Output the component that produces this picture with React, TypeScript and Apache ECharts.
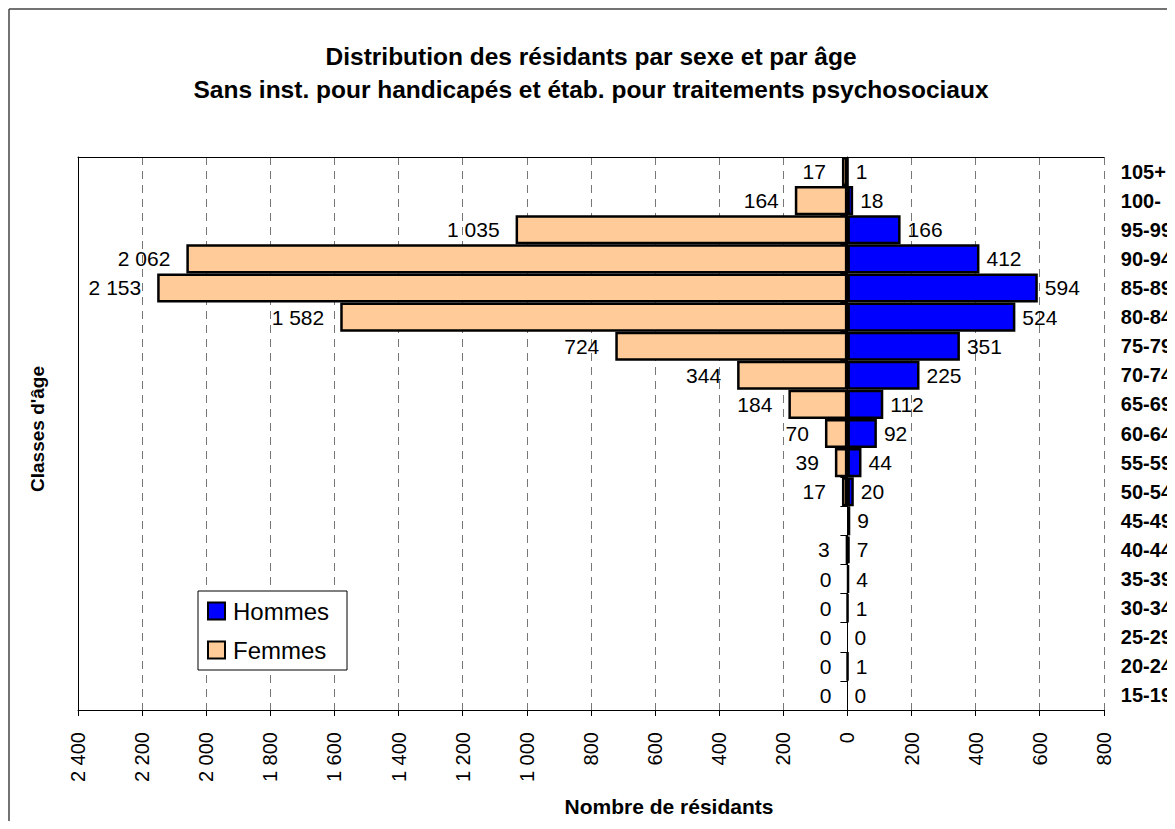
import React, { useEffect, useRef } from "react";
import * as echarts from "echarts";

const ageGroups = ["15-19", "20-24", "25-29", "30-34", "35-39", "40-44", "45-49", "50-54", "55-59", "60-64", "65-69", "70-74", "75-79", "80-84", "85-89", "90-94", "95-99", "100-", "105+"];
const hommes = [0, 1, 0, 1, 4, 7, 9, 20, 44, 92, 112, 225, 351, 524, 594, 412, 166, 18, 1];
const femmes: (number | null)[] = [0, 0, 0, 0, 0, 3, null, 17, 39, 70, 184, 344, 724, 1582, 2153, 2062, 1035, 164, 17];

const titleLines = ["Distribution des résidants par sexe et par âge", "Sans inst. pour handicapés et étab. pour traitements psychosociaux"];
const xMin = -2400;
const xMax = 800;
const xStep = 200;

const FONT = "'Liberation Sans', Arial, sans-serif";

function fmt(v: number): string {
  const s = String(Math.abs(Math.round(v)));
  return s.replace(/\B(?=(\d{3})+(?!\d))/g, " ");
}

export default function App() {
  const ref = useRef<HTMLDivElement>(null);
  useEffect(() => {
    if (!ref.current) return;
    const chart = echarts.init(ref.current, null, { renderer: "svg" });
    const barStyle = (color: string, v: number | null) => ({
      value: v,
      itemStyle: { color, borderColor: "#000", borderWidth: v === 0 ? 0 : 2.5 },
    });
    chart.setOption({
      animation: false,
      backgroundColor: "#fff",
      textStyle: { fontFamily: FONT },
      grid: { left: 70, right: 69, top: 149, bottom: 111, containLabel: false },
      legend: {
        data: ["Hommes", "Femmes"],
        orient: "vertical",
        left: 190,
        top: 583,
        itemWidth: 17,
        itemHeight: 17,
        itemGap: 15,
        padding: [8, 18, 8, 9],
        borderColor: "#000",
        borderWidth: 1,
        backgroundColor: "#fff",
        icon: "rect",
        textStyle: { fontSize: 24, color: "#000", fontFamily: FONT, padding: [0, 0, 0, 3], lineHeight: 24 },
      },
      xAxis: [
        {
          type: "value",
          min: xMin,
          max: xMax,
          interval: xStep,
          position: "bottom",
          axisLine: { show: true, onZero: false, lineStyle: { color: "#000", width: 1 } },
          axisTick: { show: true, length: 6, lineStyle: { color: "#000" } },
          axisLabel: {
            rotate: 90,
            margin: 22,
            fontSize: 20,
            color: "#000",
            fontFamily: FONT,
            formatter: (v: number) => fmt(v),
          },
          splitLine: { show: true, lineStyle: { type: [8, 6], color: "#777", width: 1 } },
        },
        {
          type: "value",
          min: xMin,
          max: xMax,
          interval: xStep,
          position: "top",
          axisLine: { show: true, onZero: false, lineStyle: { color: "#000", width: 1 } },
          axisTick: { show: false },
          axisLabel: { show: false },
          splitLine: { show: false },
        },
      ],
      yAxis: [
        {
          type: "category",
          data: ageGroups,
          position: "left",
          axisLine: { show: true, onZero: true, onZeroAxisIndex: 0, lineStyle: { color: "#000", width: 1 } },
          axisTick: { show: true, length: 7, lineStyle: { color: "#000" } },
          axisLabel: { show: false },
        },
        {
          type: "category",
          data: ageGroups,
          position: "right",
          axisLine: { show: false },
          axisTick: { show: false },
          axisLabel: { show: true, margin: 17, fontSize: 20, fontWeight: "bold", color: "#000", fontFamily: FONT },
        },
        {
          type: "category",
          data: ageGroups,
          position: "left",
          axisLine: { show: true, onZero: false, lineStyle: { color: "#000", width: 1 } },
          axisTick: { show: false },
          axisLabel: { show: false },
        },
      ],
      series: [
        {
          name: "Hommes",
          type: "bar",
          xAxisIndex: 0,
          yAxisIndex: 0,
          barGap: "-100%",
          barCategoryGap: "0%",
          itemStyle: { color: "#0000FF", borderColor: "#000", borderWidth: 2.5 },
          data: hommes.map((v) => barStyle("#0000FF", v)),
          label: {
            show: true,
            position: "right",
            distance: 7,
            fontSize: 21,
            color: "#000",
            fontFamily: FONT,
            formatter: (p: any) => fmt(p.value),
          },
          z: 3,
        },
        {
          name: "Femmes",
          type: "bar",
          xAxisIndex: 0,
          yAxisIndex: 0,
          barGap: "-100%",
          barCategoryGap: "0%",
          itemStyle: { color: "#FFCC99", borderColor: "#000", borderWidth: 2.5 },
          data: femmes.map((v) => (v === null ? null : barStyle("#FFCC99", v === 0 ? 0 : -v))),
          label: {
            show: true,
            position: "left",
            distance: 16,
            fontSize: 21,
            color: "#000",
            fontFamily: FONT,
            formatter: (p: any) => (p.value === null || p.value === undefined ? "" : fmt(p.value)),
          },
          z: 3,
        },
      ],
      graphic: [
        { type: "line", shape: { x1: 1, y1: 1, x2: 1167, y2: 1 }, style: { stroke: "#444", lineWidth: 1.5 } },
        { type: "line", shape: { x1: 1, y1: 1, x2: 1, y2: 813 }, style: { stroke: "#444", lineWidth: 1.5 } },
        {
          type: "text",
          x: 583,
          y: 64.5,
          style: {
            text: titleLines.join("\n"),
            font: `bold 24.5px ${FONT}`,
            fill: "#000",
            textAlign: "center",
            textVerticalAlign: "middle",
            lineHeight: 33,
          },
        },
        {
          type: "text",
          x: 661,
          y: 798,
          style: {
            text: "Nombre de résidants",
            font: `bold 21px ${FONT}`,
            fill: "#000",
            textAlign: "center",
            textVerticalAlign: "middle",
          },
        },
        {
          type: "text",
          x: 29,
          y: 421,
          rotation: Math.PI / 2,
          style: {
            text: "Classes d'âge",
            font: `bold 19px ${FONT}`,
            fill: "#000",
            textAlign: "center",
            textVerticalAlign: "middle",
          },
        },
      ],
    });
    return () => chart.dispose();
  }, []);
  return <div ref={ref} style={{ width: 1167, height: 813 }} />;
}
